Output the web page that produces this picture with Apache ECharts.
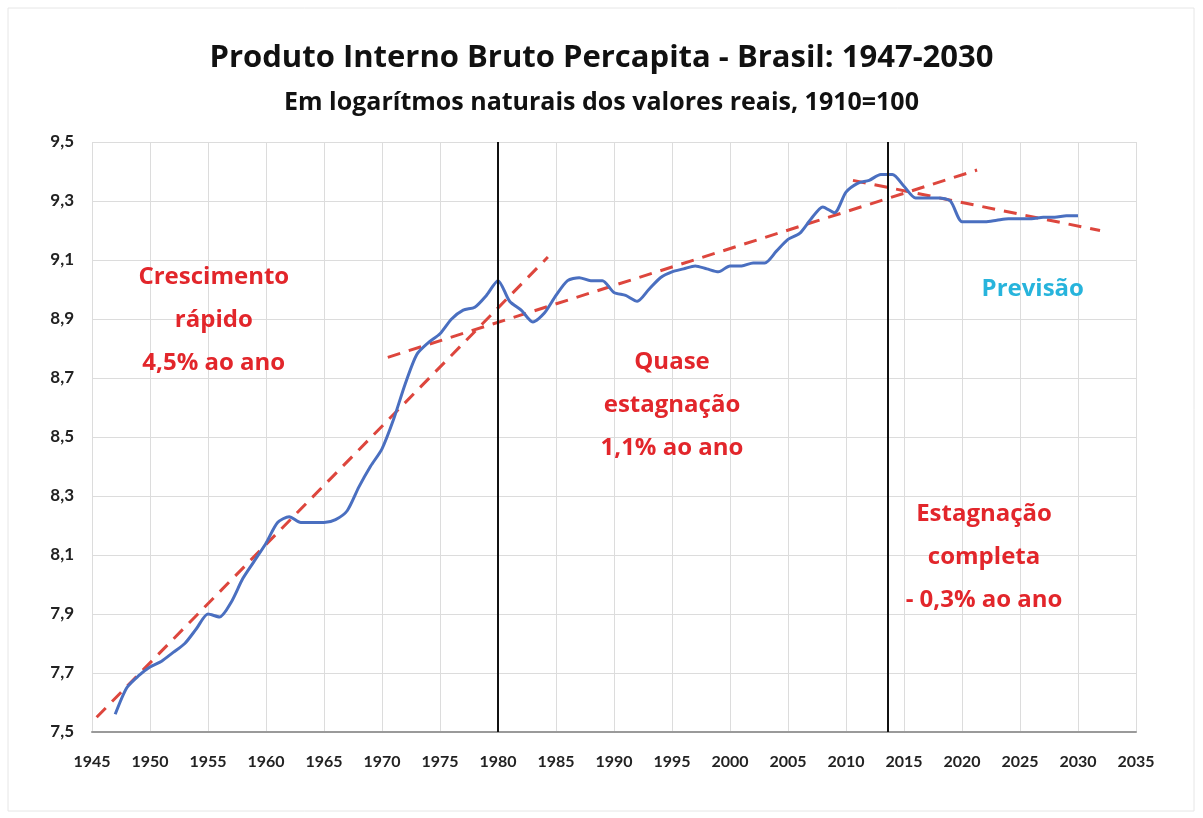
<!DOCTYPE html>
<html>
<head>
<meta charset="utf-8">
<script src="https://cdn.jsdelivr.net/npm/echarts@6.0.0/dist/echarts.min.js"></script>
<style>
  html, body { margin: 0; padding: 0; background: #fff; }
  #main { width: 1203px; height: 818px; }
</style>
</head>
<body>
<div id="main"></div>
<script>
// PIB per capita, log natural (1910=100)
var years = [
  1947, 1948, 1949, 1950, 1951, 1952, 1953, 1954, 1955, 1956,
  1957, 1958, 1959, 1960, 1961, 1962, 1963, 1964, 1965, 1966,
  1967, 1968, 1969, 1970, 1971, 1972, 1973, 1974, 1975, 1976,
  1977, 1978, 1979, 1980, 1981, 1982, 1983, 1984, 1985, 1986,
  1987, 1988, 1989, 1990, 1991, 1992, 1993, 1994, 1995, 1996,
  1997, 1998, 1999, 2000, 2001, 2002, 2003, 2004, 2005, 2006,
  2007, 2008, 2009, 2010, 2011, 2012, 2013, 2014, 2015, 2016,
  2017, 2018, 2019, 2020, 2021, 2022, 2023, 2024, 2025, 2026,
  2027, 2028, 2029, 2030
];
var pibLog = [
  7.56, 7.65, 7.69, 7.72, 7.74, 7.77, 7.80, 7.85, 7.90, 7.89,
  7.94, 8.02, 8.08, 8.14, 8.21, 8.23, 8.21, 8.21, 8.21, 8.22,
  8.25, 8.33, 8.40, 8.46, 8.56, 8.68, 8.78, 8.82, 8.85, 8.90,
  8.93, 8.94, 8.98, 9.03, 8.96, 8.93, 8.89, 8.92, 8.98, 9.03,
  9.04, 9.03, 9.03, 8.99, 8.98, 8.96, 9.00, 9.04, 9.06, 9.07,
  9.08, 9.07, 9.06, 9.08, 9.08, 9.09, 9.09, 9.13, 9.17, 9.19,
  9.24, 9.28, 9.26, 9.33, 9.36, 9.37, 9.39, 9.39, 9.35, 9.31,
  9.31, 9.31, 9.30, 9.23, 9.23, 9.23, 9.235, 9.24, 9.24, 9.24,
  9.245, 9.245, 9.25, 9.25
];

// tendencias (inicio e fim)
var trendRapido = [[1945.4, 7.55], [1984.3, 9.11]];
var trendQuase = [[1970.5, 8.77], [2021.3, 9.405]];
var trendEstag = [[2010.6, 9.37], [2031.9, 9.20]];

// quebras de periodo
var breakYears = [1980, 2013.6];

// textos: [ano, valor, texto, cor]
var notes = [
  [1955.5, 8.897, 'Crescimento\nrápido\n4,5% ao ano', '#e2262b'],
  [1995.0, 8.608, 'Quase\nestagnação\n1,1% ao ano', '#e2262b'],
  [2026.1, 9.00, 'Previsão', '#27b4dc'],
  [2021.9, 8.093, 'Estagnação\ncompleta\n- 0,3% ao ano', '#e2262b']
];

var chart = echarts.init(document.getElementById('main'), null, { renderer: 'canvas' });

var lineData = years.map(function (y, i) { return [y, pibLog[i]]; });

function trend(d) {
  return {
    type: 'line',
    data: d,
    showSymbol: false,
    silent: true,
    lineStyle: { color: '#dd463d', width: 3, type: [13, 9] },
    z: 3
  };
}

var option = {
  animation: false,
  backgroundColor: '#fff',
  title: {
    text: 'Produto Interno Bruto Percapita - Brasil: 1947-2030',
    subtext: 'Em logarítmos naturais dos valores reais, 1910=100',
    left: 'center',
    top: 38,
    itemGap: 16,
    textStyle: { fontFamily: 'Open Sans', fontWeight: 'bold', fontSize: 31, color: '#111' },
    subtextStyle: { fontFamily: 'Open Sans', fontWeight: 'bold', fontSize: 25, color: '#111' }
  },
  grid: { left: 92, right: 67, top: 142, bottom: 86 },
  xAxis: {
    type: 'value',
    min: 1945,
    max: 2035,
    interval: 5,
    axisLine: { show: true, lineStyle: { color: '#9a9a9a', width: 2 } },
    axisTick: { show: false },
    splitLine: { show: true, lineStyle: { color: '#dcdcdc', width: 1 } },
    axisLabel: {
      fontFamily: 'Lato', fontWeight: 'bold', fontSize: 16, color: '#222', margin: 22,
      formatter: function (v) { return String(v); }
    }
  },
  yAxis: {
    type: 'value',
    min: 7.5,
    max: 9.5,
    interval: 0.2,
    axisLine: { show: false },
    axisTick: { show: false },
    splitLine: { show: true, lineStyle: { color: '#dcdcdc', width: 1 } },
    axisLabel: {
      fontFamily: 'Lato', fontWeight: 'bold', fontSize: 17, color: '#222', margin: 18,
      formatter: function (v) { return v.toFixed(1).replace('.', ','); }
    }
  },
  series: [
    trend(trendRapido),
    trend(trendQuase),
    trend(trendEstag),
    {
      type: 'line',
      name: 'PIB per capita',
      data: lineData,
      showSymbol: false,
      smooth: 0.25,
      lineStyle: { color: '#4a6fc0', width: 3 },
      z: 4,
      markLine: {
        silent: true,
        symbol: 'none',
        label: { show: false },
        lineStyle: { color: '#111', width: 2, type: 'solid' },
        data: breakYears.map(function (y) { return { xAxis: y }; })
      }
    }
  ]
};

chart.setOption(option);

// anotacoes posicionadas pelas escalas do grafico
var texts = notes.map(function (n) {
  var p = chart.convertToPixel({ gridIndex: 0 }, [n[0], n[1]]);
  return {
    type: 'text',
    x: p[0],
    y: p[1],
    z: 10,
    style: {
      text: n[2],
      fill: n[3],
      font: 'bold 24px "Open Sans"',
      lineHeight: 43,
      align: 'center',
      verticalAlign: 'middle'
    }
  };
});
texts.push({
  type: 'rect',
  shape: { x: 8, y: 8, width: 1186, height: 803 },
  style: { fill: 'none', stroke: '#e6e6e6', lineWidth: 1 },
  silent: true,
  z: -1
});
chart.setOption({ graphic: texts });
</script>
</body>
</html>
